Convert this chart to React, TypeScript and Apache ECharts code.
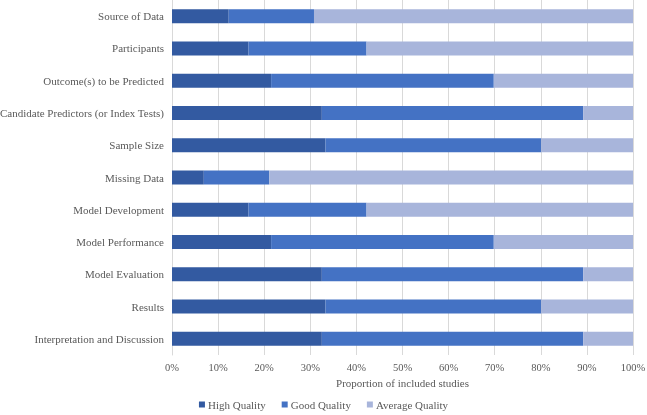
import React, { useEffect, useRef } from "react";
import * as echarts from "echarts";

const categories = [
  "Source of Data",
  "Participants",
  "Outcome(s) to be Predicted",
  "Candidate Predictors (or Index Tests)",
  "Sample Size",
  "Missing Data",
  "Model Development",
  "Model Performance",
  "Model Evaluation",
  "Results",
  "Interpretation and Discussion",
];
const highQuality = [12.3, 16.6, 21.5, 32.5, 33.3, 6.9, 16.6, 21.5, 32.5, 33.3, 32.5];
const goodQuality = [18.5, 25.6, 48.3, 56.7, 46.8, 14.2, 25.6, 48.3, 56.7, 46.8, 56.7];
const averageQuality = [69.2, 57.8, 30.2, 10.8, 19.9, 78.9, 57.8, 30.2, 10.8, 19.9, 10.8];
const seriesNames = ["High Quality", "Good Quality", "Average Quality"];
const colors = ["#335AA1", "#4472C4", "#A8B5DB"];

const FONT = "'Liberation Serif', 'DejaVu Serif', serif";

export default function App() {
  const ref = useRef<HTMLDivElement>(null);
  useEffect(() => {
    if (!ref.current) return;
    const chart = echarts.init(ref.current, undefined, { renderer: "svg" });
    const dataSets = [highQuality, goodQuality, averageQuality];
    chart.setOption({
      animation: false,
      textStyle: { fontFamily: FONT },
      grid: { left: 172, right: 14, top: 0, bottom: 60, outerBoundsMode: "none", containLabel: false },
      legend: {
        bottom: 0,
        left: "center",
        itemWidth: 6,
        itemHeight: 6,
        itemGap: 16,
        icon: "rect",
        textStyle: { fontFamily: FONT, fontSize: 11, color: "#595959", padding: [0, 0, 0, -2] },
        data: seriesNames,
      },
      xAxis: {
        type: "value",
        min: 0,
        max: 100,
        interval: 10,
        name: "Proportion of included studies",
        nameLocation: "middle",
        nameGap: 22,
        nameTextStyle: { fontFamily: FONT, fontSize: 11, color: "#595959" },
        axisLine: { show: false },
        axisTick: { show: false },
        axisLabel: {
          formatter: "{value}%",
          fontFamily: FONT,
          fontSize: 10.5,
          color: "#595959",
          margin: 7,
        },
        splitLine: { show: true, lineStyle: { color: "#D9D9D9", width: 1 } },
      },
      yAxis: {
        type: "category",
        data: categories,
        inverse: true,
        axisLine: { show: true, lineStyle: { color: "#D9D9D9" } },
        axisTick: { show: false },
        axisLabel: {
          fontFamily: FONT,
          fontSize: 11,
          color: "#595959",
          margin: 8,
        },
      },
      series: seriesNames.map((name, i) => ({
        name,
        type: "bar",
        stack: "total",
        barWidth: 14,
        data: dataSets[i],
        itemStyle: { color: colors[i] },
      })),
    });
    return () => chart.dispose();
  }, []);
  return <div ref={ref} style={{ position: "fixed", left: 0, top: 0, width: 647, height: 415 }} />;
}
